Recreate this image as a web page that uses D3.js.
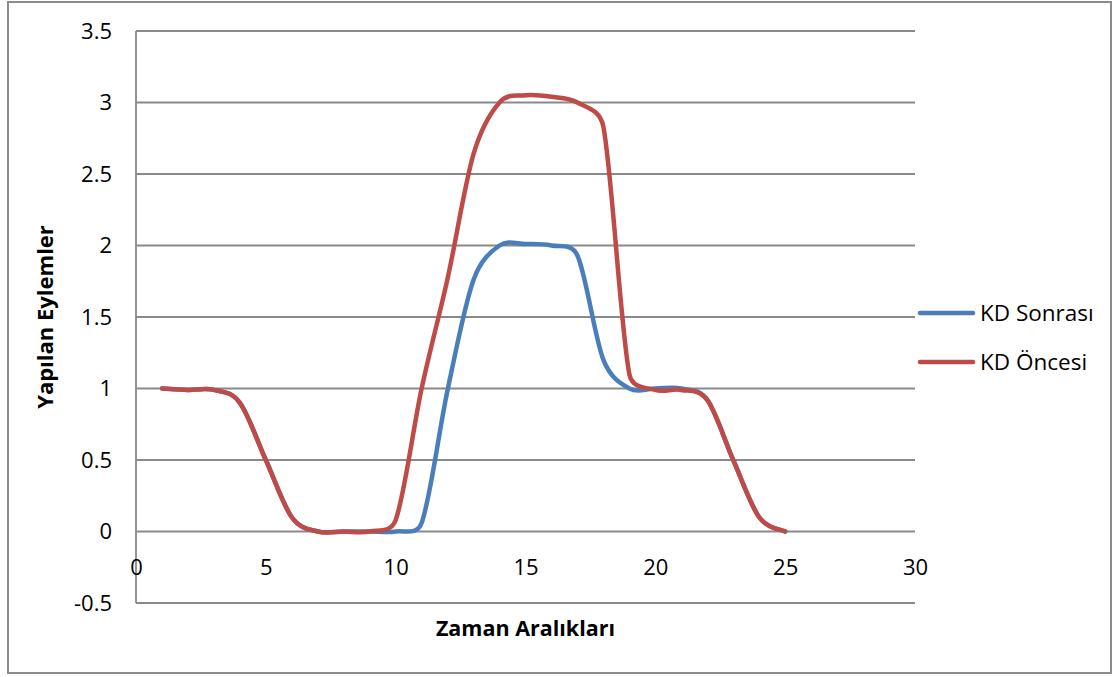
<!DOCTYPE html>
<html>
<head>
<meta charset="utf-8">
<script src="https://cdn.jsdelivr.net/npm/d3@7"></script>
<style>
  html, body { margin: 0; padding: 0; background: #fff; }
  svg { display: block; font-family: "Open Sans", "Noto Sans", sans-serif; }
</style>
</head>
<body>
<svg id="chart" width="1113" height="677"></svg>
<script>
const xValues = [1,2,3,4,5,6,7,8,9,10,11,12,13,14,15,16,17,18,19,20,21,22,23,24,25];
const kdSonrasi = [1,0.99,0.99,0.9,0.5,0.1,0,0,0,0,0.06,0.99,1.76,2.0,2.01,2.0,1.93,1.2,1.0,1.0,1.0,0.92,0.5,0.1,0];
const kdOncesi  = [1,0.99,0.99,0.9,0.5,0.1,0,0,0,0.08,1.0,1.77,2.64,3.0,3.05,3.04,3.0,2.83,1.1,0.99,0.99,0.92,0.5,0.1,0];
const seriesNames = ["KD Sonrası", "KD Öncesi"];
const seriesColors = ["#4a7ebb", "#be4b48"];
const xTicks = [0,5,10,15,20,25,30];
const yTicks = [-0.5,0,0.5,1,1.5,2,2.5,3,3.5];
const xTitle = "Zaman Aralıkları";
const yTitle = "Yapılan Eylemler";

// Spreadsheet-style smoothed line: Catmull-Rom (1/6) Bezier with control arms capped at half the chord
function SmoothCurve(context) { this._context = context; }
SmoothCurve.prototype = {
  areaStart() { this._line = 0; },
  areaEnd() { this._line = NaN; },
  lineStart() { this._pts = []; },
  point(x, y) { this._pts.push([+x, +y]); },
  lineEnd() {
    const p = this._pts, n = p.length, c = this._context;
    if (!n) return;
    c.moveTo(p[0][0], p[0][1]);
    if (n === 1) return;
    const dist = (a, b) => Math.hypot(a[0] - b[0], a[1] - b[1]);
    for (let i = 0; i < n - 1; i++) {
      const P0 = p[i - 1] || p[i], P1 = p[i], P2 = p[i + 1], P3 = p[i + 2] || p[i + 1];
      const d12 = dist(P1, P2), d02 = dist(P0, P2), d13 = dist(P1, P3);
      const f = 1 / 6;
      const f1 = (d02 / 6 < d12 / 2 || d02 === 0) ? f : d12 / (2 * d02);
      const f2 = (d13 / 6 < d12 / 2 || d13 === 0) ? f : d12 / (2 * d13);
      c.bezierCurveTo(
        P1[0] + (P2[0] - P0[0]) * f1, P1[1] + (P2[1] - P0[1]) * f1,
        P2[0] - (P3[0] - P1[0]) * f2, P2[1] - (P3[1] - P1[1]) * f2,
        P2[0], P2[1]);
    }
  }
};
const curveSmooth = ctx => new SmoothCurve(ctx);

const svg = d3.select("#chart");
const W = 1113, H = 677;
const plot = {left: 136, right: 915, top: 31, bottom: 603};

svg.append("rect").attr("width", W).attr("height", H).attr("fill", "#fff");
svg.append("rect").attr("x", 8).attr("y", 2).attr("width", 1103).attr("height", 671)
  .attr("fill", "none").attr("stroke", "#8c8c8c").attr("stroke-width", 2);

const x = d3.scaleLinear().domain([0, 30]).range([plot.left, plot.right]);
const y = d3.scaleLinear().domain([-0.5, 3.5]).range([plot.bottom, plot.top]);

// gridlines
svg.append("g").selectAll("line").data(yTicks).join("line")
  .attr("x1", plot.left).attr("x2", plot.right)
  .attr("y1", d => y(d)).attr("y2", d => y(d))
  .attr("stroke", "#898989").attr("stroke-width", 1.8);
// vertical axis line
svg.append("line").attr("x1", x(0)).attr("x2", x(0)).attr("y1", plot.top).attr("y2", plot.bottom)
  .attr("stroke", "#898989").attr("stroke-width", 1.8);

// y axis labels
const yAxis = svg.append("g").attr("transform", `translate(${plot.left},0)`)
  .call(d3.axisLeft(y).tickValues(yTicks).tickSize(0).tickPadding(24).tickFormat(d => String(d)));
yAxis.select(".domain").remove();
yAxis.selectAll("text").attr("font-size", 22).attr("fill", "#000").attr("font-family", "Open Sans");

// x axis labels (axis crosses at y = 0)
const xAxis = svg.append("g").attr("transform", `translate(0,${y(0)})`)
  .call(d3.axisBottom(x).tickValues(xTicks).tickSize(0).tickFormat(d => String(d)));
xAxis.select(".domain").remove();
xAxis.selectAll("text").attr("y", 36).attr("dy", "0.35em")
  .attr("font-size", 22).attr("fill", "#000").attr("font-family", "Open Sans");

// titles
svg.append("text").attr("x", (plot.left + plot.right) / 2).attr("y", 628).attr("dy", "0.35em")
  .attr("text-anchor", "middle").attr("font-weight", "bold").attr("font-size", 21.5).text(xTitle);
svg.append("text").attr("transform", `translate(45,${(plot.top + plot.bottom) / 2}) rotate(-90)`)
  .attr("dy", "0.35em").attr("text-anchor", "middle").attr("font-weight", "bold").attr("font-size", 22).text(yTitle);

// series
const line = d3.line().x(d => x(d[0])).y(d => y(d[1])).curve(curveSmooth);
const allSeries = [kdSonrasi, kdOncesi];
allSeries.forEach((vals, i) => {
  svg.append("path").datum(xValues.map((xv, j) => [xv, vals[j]]))
    .attr("d", line).attr("fill", "none").attr("stroke", seriesColors[i])
    .attr("stroke-width", 4.5).attr("stroke-linecap", "round").attr("stroke-linejoin", "round");
});

// legend
const legendY = [313, 362];
seriesNames.forEach((name, i) => {
  svg.append("line").attr("x1", 920).attr("x2", 973).attr("y1", legendY[i]).attr("y2", legendY[i])
    .attr("stroke", seriesColors[i]).attr("stroke-width", 4.5).attr("stroke-linecap", "round");
  svg.append("text").attr("x", 980).attr("y", legendY[i]).attr("dy", "0.35em")
    .attr("font-size", 22.5).attr("fill", "#000").text(name);
});
</script>
</body>
</html>
